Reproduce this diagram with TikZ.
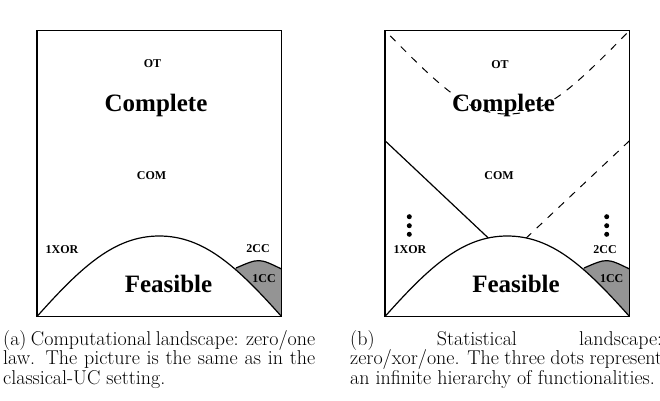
\documentclass[tikz,border=0pt]{standalone}
\usepackage{fontspec}
\newfontfamily\timesbf{Liberation Serif}
\tikzset{
  lab/.style={font=\timesbf\bfseries\fontsize{12}{12}\selectfont, anchor=base, inner sep=0pt},
  big/.style={font=\timesbf\bfseries\fontsize{25}{25}\selectfont, anchor=base, inner sep=0pt},
  captext/.style={font=\fontsize{20}{22}\selectfont, anchor=base west, inner sep=0pt},
  frame/.style={line width=1.4pt},
  curve/.style={line width=1.2pt},
  dsh/.style={line width=1pt, dash pattern=on 7.5pt off 7.5pt},
  dotc/.style={circle, fill=black, inner sep=0pt, minimum size=5pt},
  shade1/.style={fill=black!42},
}
\newcommand\mainarc{(37,316.5) .. controls (82,266) and (115,236) .. (159.25,236) .. controls (203.5,236) and (236.5,266) .. (281.5,316.5)}
\newcommand\landpanel{%
  \begin{scope}
    \clip \mainarc -- (281.5,30) -- (37,30) -- cycle;
    \fill[shade1] (200,268) -- (236,268) .. controls (259,258) .. (281.5,269) -- (281.5,316.5) -- (200,316.5) -- cycle;
    \draw[curve] (236,268) .. controls (259,258) .. (281.5,269);
  \end{scope}
  \draw[curve] \mainarc;
  \draw[frame] (37,30.5) rectangle (281.5,316.5);
}
\begin{document}
\begin{tikzpicture}[x=1pt,y=-1pt]
\useasboundingbox (0,0) rectangle (660,400);
% ---------- panel (a)
\landpanel
\node[lab] (otA) at (152.5,67.7) {OT};
\node[big] (compA) at (156,111.5) {Complete};
\node[lab] (comA) at (151.5,179.3) {COM};
\node[lab] (xorA) at (62,253.3) {1XOR};
\node[lab] (ccA) at (258,252.8) {2CC};
\node[big] (feasA) at (168.5,292.7) {Feasible};
\node[lab] (oneccA) at (264,282.3) {1CC};
% ---------- panel (b)
\begin{scope}[xshift=348pt]
\landpanel
\draw[dsh, dash phase=7.5pt] (37,30.5) .. controls (97,92) and (122,114) .. (159.25,114) .. controls (196.5,114) and (221.5,92) .. (281.5,30.5);
\draw[curve] (37,140.7) -- (140.3,238);
\draw[dsh] (281.5,140.7) -- (178.2,238);
\node[lab] (otB) at (152,68.3) {OT};
\node[big] (compB) at (155.5,111.7) {Complete};
\node[lab] (comB) at (151,179.3) {COM};
\node[lab] (xorB) at (62,253.3) {1XOR};
\node[lab] (ccB) at (257,253.3) {2CC};
\node[big] (feasB) at (168,292.7) {Feasible};
\node[lab] (oneccB) at (263.7,282.3) {1CC};
\foreach \yy [count=\i] in {216.7,225.7,234.3}{
  \node[dotc] (dl\i) at (61.3,\yy) {};
  \node[dotc] (dr\i) at (258.7,\yy) {};
}
\end{scope}
% ---------- captions
\node[captext] (ca1) at (3,345) {\makebox[312pt][s]{(a) Computational landscape: zero/one}};
\node[captext] (ca2) at (3,364.5) {\makebox[312pt][s]{law. The picture is the same as in the}};
\node[captext] (ca3) at (3,384) {classical-UC setting.};
\node[captext] (cb1) at (350,345) {\makebox[312pt][s]{(b) Statistical landscape:}};
\node[captext] (cb2) at (350,364.5) {\makebox[312pt][s]{zero/xor/one. The three dots represent}};
\node[captext] (cb3) at (350,384) {an infinite hierarchy of functionalities.};
\end{tikzpicture}
\end{document}
